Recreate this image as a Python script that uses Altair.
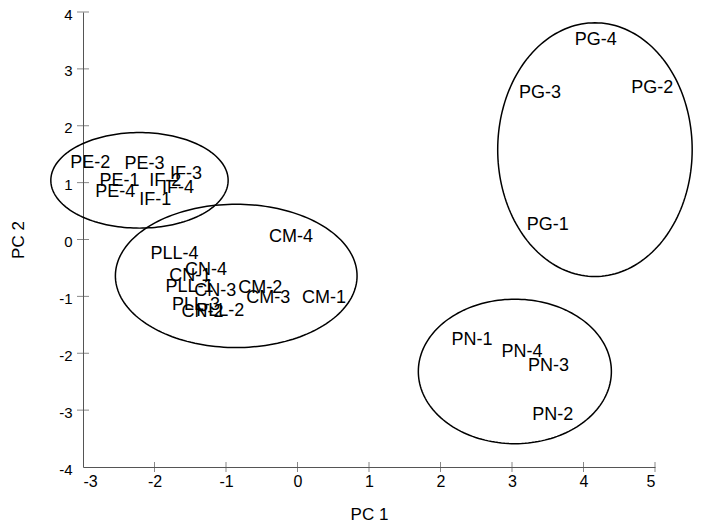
import numpy as np
import pandas as pd
import altair as alt

# Sample labels and PCA scores
labels = ["PE-2", "PE-3", "IF-3", "PE-1", "IF-2", "IF-4", "PE-4", "IF-1",
          "CM-4", "PLL-4", "CN-4", "CN-1", "PLL-1", "CN-3", "CM-2", "CM-3",
          "CM-1", "PLL-3", "CN-2", "PLL-2",
          "PG-4", "PG-3", "PG-2", "PG-1",
          "PN-1", "PN-4", "PN-3", "PN-2"]
pc1 = [-2.90, -2.14, -1.56, -2.49, -1.85, -1.67, -2.55, -1.99,
       -0.09, -1.72, -1.28, -1.50, -1.51, -1.15, -0.52, -0.41,
       0.37, -1.42, -1.33, -1.08,
       4.17, 3.39, 4.96, 3.50,
       2.44, 3.14, 3.51, 3.57]
pc2 = [1.35, 1.32, 1.16, 1.02, 1.02, 0.91, 0.84, 0.70,
       0.04, -0.25, -0.54, -0.65, -0.83, -0.90, -0.86, -1.02,
       -1.02, -1.16, -1.27, -1.25,
       3.50, 2.58, 2.67, 0.26,
       -1.76, -1.97, -2.23, -3.08]

# Group ellipses: centre and semi-axes in data units
ell_cx = [-2.21, -0.857, 4.16, 3.04]
ell_cy = [1.04, -0.64, 1.58, -2.32]
ell_rx = [1.24, 1.69, 1.36, 1.35]
ell_ry = [0.84, 1.26, 2.23, 1.27]

x_ticks = [-3, -2, -1, 0, 1, 2, 3, 4, 5]
y_ticks = [-4, -3, -2, -1, 0, 1, 2, 3, 4]

FONT = "Liberation Sans"
AXIS_COLOR = "#555555"

pts = pd.DataFrame({"label": labels, "pc1": pc1, "pc2": pc2})

rows = []
t = np.linspace(0, 2 * np.pi, 181)
for g, (cx, cy, rx, ry) in enumerate(zip(ell_cx, ell_cy, ell_rx, ell_ry)):
    for i, a in enumerate(t):
        rows.append({"g": g, "i": i, "pc1": cx + rx * np.cos(a), "pc2": cy + ry * np.sin(a)})
ell = pd.DataFrame(rows)

xt = pd.DataFrame({"pc1": x_ticks[1:], "pc2": [y_ticks[0]] * (len(x_ticks) - 1)})
yt = pd.DataFrame({"pc1": [x_ticks[0]] * (len(y_ticks) - 1), "pc2": y_ticks[1:]})

xscale = alt.Scale(domain=[x_ticks[0], x_ticks[-1]], nice=False, zero=False)
yscale = alt.Scale(domain=[y_ticks[0], y_ticks[-1]], nice=False, zero=False)

xaxis = alt.Axis(values=x_ticks, ticks=False, tickSize=0, grid=False,
                 labelExpr="'' + datum.value", labelPadding=6,
                 labelFont=FONT, labelFontSize=16, labelColor="black",
                 domainColor=AXIS_COLOR, domainWidth=1,
                 title="PC 1", titleFont=FONT, titleFontSize=17,
                 titleFontWeight="normal", titleColor="black",
                 titleY=47, titleBaseline="middle")
yaxis = alt.Axis(values=y_ticks, ticks=False, tickSize=0, grid=False,
                 labelExpr="'' + datum.value", labelPadding=11,
                 labelOffset=2,
                 labelFont=FONT, labelFontSize=15, labelColor="black",
                 domainColor=AXIS_COLOR, domainWidth=1,
                 title="PC 2", titleFont=FONT, titleFontSize=17,
                 titleFontWeight="normal", titleColor="black",
                 titleX=-65, titleBaseline="middle")

ellipses = alt.Chart(ell).mark_line(color="black", strokeWidth=1.5).encode(
    x=alt.X("pc1:Q", scale=xscale, axis=xaxis),
    y=alt.Y("pc2:Q", scale=yscale, axis=yaxis),
    detail="g:N",
    order="i:Q",
)

text = alt.Chart(pts).mark_text(font=FONT, fontSize=18, color="black",
                                align="center", baseline="middle").encode(
    x="pc1:Q", y="pc2:Q", text="label:N")

xtick = alt.Chart(xt).mark_tick(orient="vertical", size=10, thickness=1,
                                color=AXIS_COLOR).encode(x="pc1:Q", y="pc2:Q")
ytick = alt.Chart(yt).mark_tick(orient="horizontal", size=12, thickness=1,
                                color=AXIS_COLOR).encode(x="pc1:Q", y="pc2:Q")

chart = alt.layer(ellipses, xtick, ytick, text).properties(
    width=572, height=455,
    autosize=alt.AutoSizeParams(type="none"),
    padding={"left": 75, "top": 4, "right": 38, "bottom": 58},
    background="white",
).configure_view(stroke=None)

chart.save("out.html", embed_options={"renderer": "svg", "actions": False})
